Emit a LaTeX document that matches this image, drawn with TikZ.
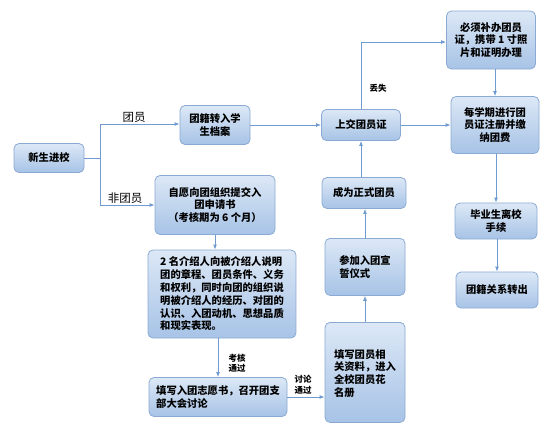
\documentclass[tikz,border=0pt]{standalone}
\usepackage{fontspec}
\setmainfont{Noto Sans CJK SC}
\usetikzlibrary{arrows.meta}
\definecolor{boxtop}{HTML}{DCE8F6}
\definecolor{boxbot}{HTML}{A7C3E6}
\definecolor{boxline}{HTML}{8AAAD3}
\definecolor{conn}{HTML}{6F9BD1}
\tikzset{
  box/.style={draw=boxline, line width=0.8pt, rounded corners=5pt, top color=boxtop, bottom color=boxbot,
    font=\fontsize{10.3}{12.8}\selectfont\bfseries, align=center, inner sep=2pt},
  conn/.style={draw=conn, line width=0.9pt, -{Latex[length=5pt,width=4pt]}},
  plain/.style={draw=conn, line width=0.9pt},
  lbl/.style={font=\fontsize{11.5}{13}\selectfont, inner sep=1pt},
  slbl/.style={font=\fontsize{8.5}{10.5}\selectfont\bfseries, align=left, inner sep=1pt}
}
\begin{document}
\begin{tikzpicture}[x=1pt,y=-1pt]
\useasboundingbox (0,0) rectangle (554,426);
\node[box, minimum width=70pt, minimum height=29pt] (a) at (49,158) {新生进校};
\node[box, minimum width=70pt, minimum height=39pt] (b) at (215,125) {团籍转入学\\生档案};
\node[box, minimum width=120pt, minimum height=59pt] (c) at (215,205) {自愿向团组织提交入\\团申请书\\（考核期为 6 个月）};
\node[box, minimum width=148pt, minimum height=88pt, align=left] (d) at (222,294) {2 名介绍人向被介绍人说明\\团的章程、团员条件、义务\\和权利，同时向团的组织说\\明被介绍人的经历、对团的\\认识、入团动机、思想品质\\和现实表现。};
\node[box, minimum width=138pt, minimum height=39pt, align=left] (e) at (218,397) {填写入团志愿书，召开团支\\部大会讨论};
\node[box, minimum width=80pt, minimum height=100pt, align=left, anchor=north] (f) at (365,322) {\\[-2pt]填写团员相\\关资料，进入\\全校团员花\\名册};
\node[box, minimum width=80pt, minimum height=57pt, align=left, anchor=north] (g) at (365,238) {\\[-4pt]参加入团宣\\誓仪式};
\node[box, minimum width=84pt, minimum height=31pt] (h) at (364,193) {成为正式团员};
\node[box, minimum width=79pt, minimum height=31pt] (i) at (361,125) {上交团员证};
\node[box, minimum width=89pt, minimum height=58pt] (j) at (491,40) {必须补办团员\\证，携带 1 寸照\\片和证明办理};
\node[box, minimum width=88pt, minimum height=57pt] (k) at (495,125) {每学期进行团\\员证注册并缴\\纳团费};
\node[box, minimum width=82pt, minimum height=36pt] (l) at (496,221) {毕业生离校\\手续};
\node[box, minimum width=82pt, minimum height=36pt] (m) at (497,290) {团籍关系转出};
\coordinate (br) at (100,158);
\coordinate (bt) at (100,124);
\coordinate (bb) at (100,205);
\coordinate (up) at (361,42);
\draw[plain] (a.east) -- (br);
\draw[conn] (br) -- (bt) -- (b.west |- bt);
\draw[conn] (br) -- (bb) -- (c.west |- bb);
\node[lbl] (l1) at (134,117) {团员};
\node[lbl] (l2) at (125,198) {非团员};
\draw[conn] (b.east) -- (i.west |- b.east);
\draw[conn] (c.south) -- (d.north -| c.south);
\draw[conn] (d.south -| e.north) -- (e.north);
\node[slbl] (l3) at (237,363) {考核\\通过};
\draw[conn] (e.east) -- (f.west |- e.east);
\node[slbl] (l4) at (303,385) {讨论\\通过};
\draw[conn] (f.north) -- (g.south);
\draw[conn] (g.north) -- (h.south -| g.north);
\draw[conn] (h.north -| i.south) -- (i.south);
\draw[conn] (i.north) -- (up) -- (j.west |- up);
\node[slbl] (l5) at (378,88) {丢失};
\draw[conn] (i.east) -- (k.west |- i.east);
\draw[conn] (j.south -| k.north) -- (k.north);
\draw[conn] (k.south -| l.north) -- (l.north);
\draw[conn] (l.south -| m.north) -- (m.north);
\end{tikzpicture}
\end{document}
